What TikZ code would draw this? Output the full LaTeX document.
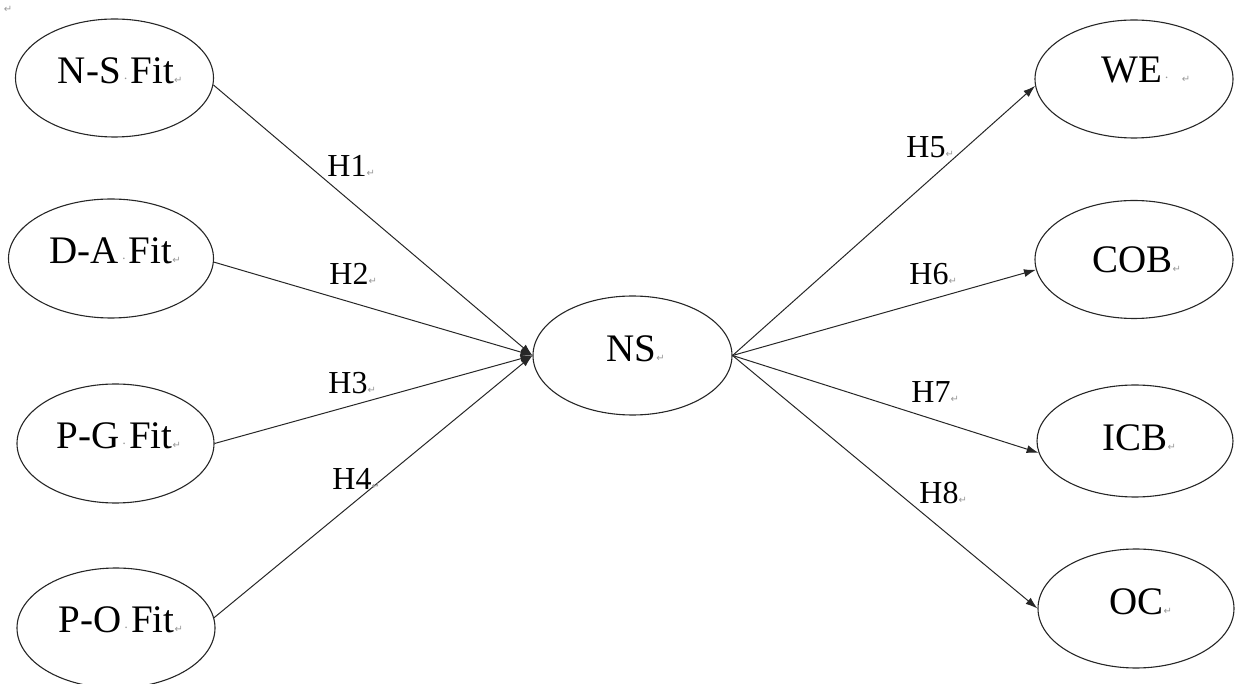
\documentclass[tikz,border=0pt]{standalone}
\usepackage{fontspec}
\setmainfont{Liberation Serif}
\newfontfamily\symfont{DejaVu Sans}
\usetikzlibrary{arrows.meta,shapes.geometric}
\newcommand{\retmk}{{\symfont\fontsize{10}{10}\selectfont\textcolor{gray!80}{↵}}}
\newcommand{\gdot}{\makebox[10pt]{\textcolor{gray!80}{\fontsize{14}{14}\selectfont ·}}}
\tikzset{
  ell/.style={draw=black!85, line width=1.1pt, ellipse, inner sep=0pt},
  txt/.style={inner sep=0pt, font=\fontsize{39}{41}\selectfont},
  hlab/.style={inner sep=0pt, font=\fontsize{32}{34}\selectfont},
  conn/.style={draw=black!85, line width=1pt, -{Latex[length=12pt,width=8pt]}},
}
\begin{document}
\begin{tikzpicture}[x=1pt, y=-1pt]
\useasboundingbox (0,0) rectangle (1235,684);
\clip (0,0) rectangle (1235,684);
\node[inner sep=0pt] (topmark) at (8,9) {\retmk};
% left ellipses
\node[ell, minimum width=198pt, minimum height=118pt] (nsfit) at (114.5,78) {};
\node[ell, minimum width=205pt, minimum height=119pt] (dafit) at (111,258.5) {};
\node[ell, minimum width=197pt, minimum height=119pt] (pgfit) at (115.5,443.5) {};
\node[ell, minimum width=198pt, minimum height=120pt] (pofit) at (116,628) {};
% centre
\node[ell, minimum width=199pt, minimum height=119pt] (ns) at (632.5,355.5) {};
% right ellipses
\node[ell, minimum width=198pt, minimum height=118pt] (we) at (1134,79) {};
\node[ell, minimum width=198pt, minimum height=118pt] (cob) at (1134,259.5) {};
\node[ell, minimum width=196pt, minimum height=112pt] (icb) at (1135,441) {};
\node[ell, minimum width=196pt, minimum height=119pt] (oc) at (1136,608.5) {};
% texts
\node[txt] (nsfit-t) at (116,71) {N-S\gdot Fit\rlap{\retmk}};
\node[txt] (dafit-t) at (111,251) {D-A\gdot Fit\rlap{\retmk}};
\node[txt] (pgfit-t) at (114.5,436) {P-G\gdot Fit\rlap{\retmk}};
\node[txt] (pofit-t) at (116.5,620) {P-O\gdot Fit\rlap{\retmk}};
\node[txt] (ns-t) at (631.5,348.5) {NS\rlap{\retmk}};
\node[txt] (we-t) at (1131.5,70) {WE\rlap{\gdot\hspace{10pt}\retmk}};
\node[txt] (cob-t) at (1132.5,260) {COB\rlap{\retmk}};
\node[txt] (icb-t) at (1135,438) {ICB\rlap{\retmk}};
\node[txt] (oc-t) at (1136.5,602) {OC\rlap{\retmk}};
% connectors
\draw[conn] (nsfit.-4) -- (ns.west);
\draw[conn] (dafit.-2) -- (ns.west);
\draw[conn] (pgfit.east) -- (ns.west);
\draw[conn] (pofit.6) -- (ns.west);
\draw[conn] (ns.east) -- (we.184);
\draw[conn] (ns.east) -- (cob.186);
\draw[conn] (ns.east) -- (icb.187);
\draw[conn] (ns.east) -- (oc.west);
% labels
\node[hlab] (h1) at (347,166) {H1\rlap{\retmk}};
\node[hlab] (h2) at (349,274) {H2\rlap{\retmk}};
\node[hlab] (h3) at (348,383) {H3\rlap{\retmk}};
\node[hlab] (h4) at (352,479) {H4\rlap{\retmk}};
\node[hlab] (h5) at (926,147) {H5\rlap{\retmk}};
\node[hlab] (h6) at (929,274) {H6\rlap{\retmk}};
\node[hlab] (h7) at (931,392) {H7\rlap{\retmk}};
\node[hlab] (h8) at (939,493) {H8\rlap{\retmk}};
\end{tikzpicture}
\end{document}
